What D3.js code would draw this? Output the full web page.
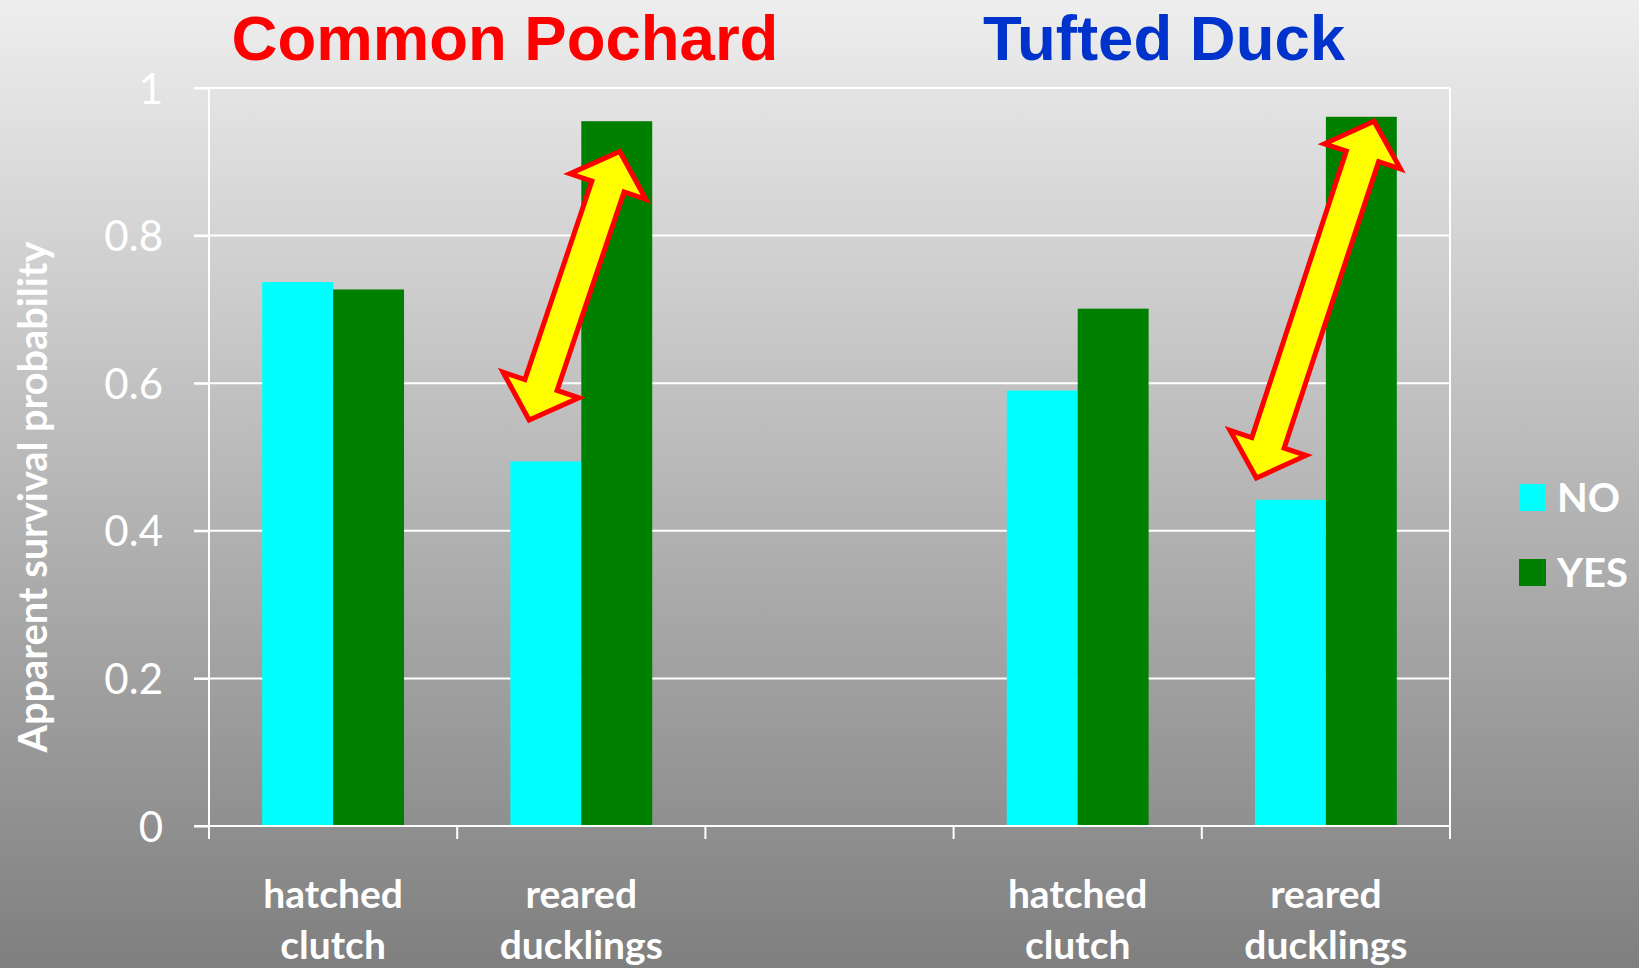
<!DOCTYPE html>
<html>
<head>
<meta charset="utf-8">
<script src="https://cdn.jsdelivr.net/npm/d3@7"></script>
<style>
  html, body { margin: 0; padding: 0; }
  body { width: 1639px; height: 968px; overflow: hidden; }
  svg { display: block; }
</style>
</head>
<body>
<svg id="chart" width="1639" height="968"></svg>
<script>
// Apparent survival of female ducks by breeding outcome, split by species
const categoryKeys = ["CP hatched", "CP reared", "spacer", "TD hatched", "TD reared"];
const categoryLabels = [["hatched", "clutch"], ["reared", "ducklings"], [], ["hatched", "clutch"], ["reared", "ducklings"]];
const seriesNames = ["NO", "YES"];
const noValues  = [0.737, 0.494, null, 0.590, 0.442];
const yesValues = [0.727, 0.955, null, 0.701, 0.961];
const yTicks = [0, 0.2, 0.4, 0.6, 0.8, 1];
const yTickLabels = ["0", "0.2", "0.4", "0.6", "0.8", "1"];
const speciesTitles = ["Common Pochard", "Tufted Duck"];
const yAxisTitle = "Apparent survival probability";
// double-headed arrows: category, offset within band (0..1) and value at each tip
const arrowCats = ["CP reared", "TD reared"];
const arrowFrom = [[0.29, 0.550], [0.22, 0.4715]];
const arrowTo   = [[0.655, 0.914], [0.694, 0.955]];

const colors = { NO: "#00ffff", YES: "#008000" };

const svg = d3.select("#chart");
const W = 1639, H = 968;
const plot = { left: 209, right: 1450, top: 88, bottom: 826 };

// background gradient
const defs = svg.append("defs");
const grad = defs.append("linearGradient").attr("id", "bg").attr("x1", 0).attr("y1", 0).attr("x2", 0).attr("y2", 1);
grad.append("stop").attr("offset", "0%").attr("stop-color", "#eeeeee");
grad.append("stop").attr("offset", "100%").attr("stop-color", "#7f7f7f");
svg.append("rect").attr("width", W).attr("height", H).attr("fill", "url(#bg)");

const x = d3.scaleBand().domain(categoryKeys).range([plot.left, plot.right]);
const xs = d3.scaleBand().domain(seriesNames).range([0, x.bandwidth()]).paddingInner(0).paddingOuter(0.75);
const y = d3.scaleLinear().domain([0, 1]).range([plot.bottom, plot.top]);

const bodyFont = "Lato, 'Open Sans', sans-serif";

// gridlines
svg.append("g").selectAll("line").data(yTicks.filter(t => t > 0)).join("line")
  .attr("x1", plot.left - 15).attr("x2", plot.right)
  .attr("y1", d => y(d)).attr("y2", d => y(d))
  .attr("stroke", "#ffffff").attr("stroke-width", 2);

// bars
const rows = categoryKeys.map((k, i) => ({ key: k, NO: noValues[i], YES: yesValues[i] }));
const groups = svg.append("g").selectAll("g").data(rows.filter(r => r.NO != null)).join("g")
  .attr("transform", d => `translate(${x(d.key)},0)`);
groups.selectAll("rect").data(d => seriesNames.map(s => ({ s, v: d[s] }))).join("rect")
  .attr("x", d => xs(d.s)).attr("width", xs.bandwidth())
  .attr("y", d => y(d.v)).attr("height", d => y(0) - y(d.v))
  .attr("fill", d => colors[d.s]);

// y axis
const yAxis = d3.axisLeft(y).tickValues(yTicks).tickFormat((d, i) => yTickLabels[i]).tickSize(15).tickPadding(31);
const gy = svg.append("g").attr("transform", `translate(${plot.left},0)`).call(yAxis);
gy.select(".domain").attr("stroke", "#ffffff").attr("stroke-width", 2).attr("d", `M0,${plot.top}V${plot.bottom + 13}`);
gy.selectAll(".tick line").attr("stroke", "#ffffff").attr("stroke-width", 2);
gy.selectAll(".tick text").attr("fill", "#ffffff").attr("font-family", bodyFont)
  .attr("font-size", 42).attr("dy", "0.36em");

// x axis: tick marks sit on category boundaries
const boundaries = categoryKeys.map(k => x(k)).concat([plot.right]);
const gx = svg.append("g");
gx.append("line").attr("x1", plot.left - 15).attr("x2", plot.right)
  .attr("y1", plot.bottom).attr("y2", plot.bottom)
  .attr("stroke", "#ffffff").attr("stroke-width", 2);
gx.selectAll("line.tk").data(boundaries).join("line").attr("class", "tk")
  .attr("x1", d => d).attr("x2", d => d)
  .attr("y1", plot.bottom).attr("y2", plot.bottom + 13)
  .attr("stroke", "#ffffff").attr("stroke-width", 2);
// right frame edge
svg.append("line").attr("x1", plot.right).attr("x2", plot.right)
  .attr("y1", plot.top).attr("y2", plot.bottom)
  .attr("stroke", "#ffffff").attr("stroke-width", 2);

// category labels
const lab = svg.append("g").selectAll("text").data(categoryKeys.map((k, i) => ({ k, lines: categoryLabels[i] })))
  .join("text")
  .attr("x", d => x(d.k) + x.bandwidth() / 2)
  .attr("y", 908)
  .attr("text-anchor", "middle")
  .attr("font-family", bodyFont).attr("font-weight", 700).attr("font-size", 39)
  .attr("fill", "#ffffff");
lab.selectAll("tspan").data(d => d.lines.map((t, j) => ({ t, j, cx: x(d.k) + x.bandwidth() / 2 }))).join("tspan")
  .attr("x", d => d.cx).attr("dy", d => d.j === 0 ? 0 : 51).text(d => d.t);

// y axis title
svg.append("text")
  .attr("transform", "translate(47,497) rotate(-90)")
  .attr("text-anchor", "middle")
  .attr("font-family", bodyFont).attr("font-weight", 700).attr("font-size", 40)
  .attr("fill", "#ffffff")
  .attr("textLength", 511).attr("lengthAdjust", "spacingAndGlyphs")
  .text(yAxisTitle);

// species titles
const titleX = [505, 1164];
const titleColors = ["#ff0000", "#0033cc"];
svg.append("g").selectAll("text").data(speciesTitles).join("text")
  .attr("x", (d, i) => titleX[i]).attr("y", 60)
  .attr("text-anchor", "middle")
  .attr("font-family", "'Liberation Sans', Arial, sans-serif").attr("font-weight", 700).attr("font-size", 63.5)
  .attr("fill", (d, i) => titleColors[i])
  .text(d => d);

// legend
const legend = svg.append("g").selectAll("g").data(seriesNames).join("g")
  .attr("transform", (d, i) => `translate(1519,${484 + i * 75})`);
legend.append("rect").attr("width", 27).attr("height", 27).attr("fill", d => colors[d]);
legend.append("text").attr("x", 38).attr("y", 28)
  .attr("font-family", bodyFont).attr("font-weight", 700).attr("font-size", 40)
  .attr("fill", "#ffffff").text(d => d);

// double-headed block arrows
function arrowPath(sx, sy, ex, ey) {
  const dx = ex - sx, dy = ey - sy, L = Math.hypot(dx, dy);
  const ux = dx / L, uy = dy / L, px = -uy, py = ux;
  const h = 37, hw = 40, sw = 17;
  const pt = (bx, by, a, b) => [bx + ux * a + px * b, by + uy * a + py * b];
  const pts = [
    [ex, ey], pt(ex, ey, -h, hw), pt(ex, ey, -h, sw),
    pt(sx, sy, h, sw), pt(sx, sy, h, hw), [sx, sy],
    pt(sx, sy, h, -hw), pt(sx, sy, h, -sw),
    pt(ex, ey, -h, -sw), pt(ex, ey, -h, -hw)
  ];
  return "M" + pts.map(p => p.join(",")).join("L") + "Z";
}
svg.append("g").selectAll("path").data(arrowCats.map((c, i) => ({ c, f: arrowFrom[i], t: arrowTo[i] }))).join("path")
  .attr("d", d => arrowPath(
    x(d.c) + d.f[0] * x.bandwidth(), y(d.f[1]),
    x(d.c) + d.t[0] * x.bandwidth(), y(d.t[1])))
  .attr("fill", "#ffff00").attr("stroke", "#ff0000").attr("stroke-width", 5)
  .attr("stroke-linejoin", "miter").attr("stroke-miterlimit", 10);
</script>
</body>
</html>
